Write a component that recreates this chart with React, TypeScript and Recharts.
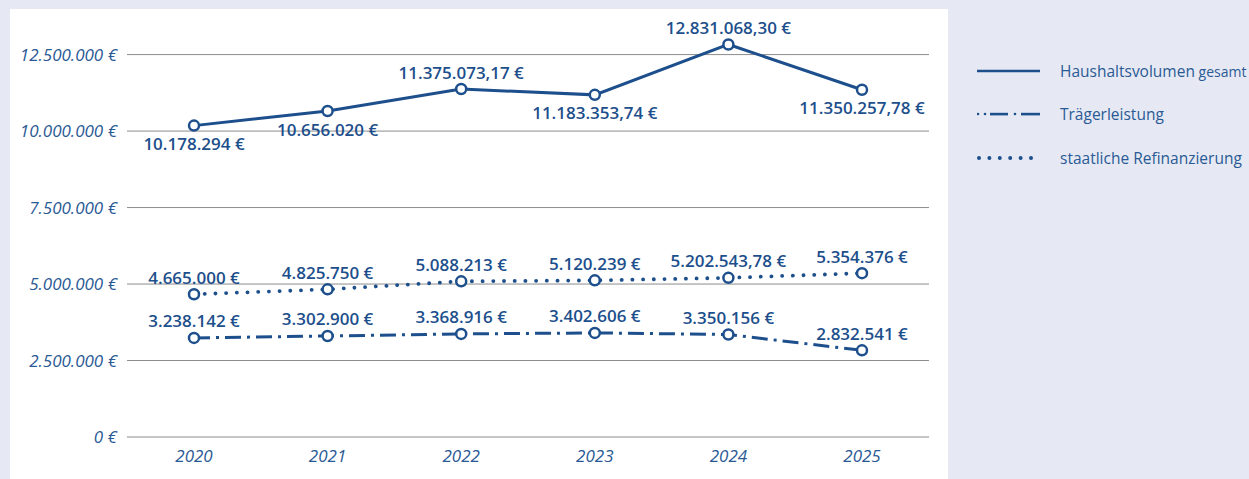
import { CartesianGrid, LabelList, Line, LineChart, XAxis, YAxis } from "recharts";

const years = ["2020", "2021", "2022", "2023", "2024", "2025"];
const haushaltsvolumen = [10178294, 10656020, 11375073.17, 11183353.74, 12831068.3, 11350257.78];
const traegerleistung = [3238142, 3302900, 3368916, 3402606, 3350156, 2832541];
const refinanzierung = [4665000, 4825750, 5088213, 5120239, 5202543.78, 5354376];
const yTicks = [0, 2500000, 5000000, 7500000, 10000000, 12500000];

// where the value labels of the top series sit
const haushaltLabelSide = ["below", "below", "above", "below", "above", "below"];

const BLUE = "#1d4f8c";
const TICK_BLUE = "#2a5a95";
const FONT = "'Open Sans', 'Noto Sans', sans-serif";

const data = years.map((year, i) => ({
  year,
  hh: haushaltsvolumen[i],
  tr: traegerleistung[i],
  rf: refinanzierung[i],
}));

function euro(v: number) {
  const neg = v < 0;
  const abs = Math.abs(v);
  const whole = Math.floor(abs + 1e-9);
  const cents = Math.round((abs - whole) * 100);
  const s = String(whole).replace(/\B(?=(\d{3})+(?!\d))/g, ".");
  const out = cents > 0 ? `${s},${String(cents).padStart(2, "0")}` : s;
  return `${neg ? "-" : ""}${out} €`;
}

function makeLabel(side: (i: number) => string) {
  return (props: any) => {
    const { x, y, index, value } = props;
    const dy = side(index) === "above" ? -17 : 18;
    return (
      <text
        x={x}
        y={y + dy}
        textAnchor="middle"
        dominantBaseline="central"
        fill={BLUE}
        fontFamily={FONT}
        fontSize={17}
        fontWeight={600}
      >
        {euro(Number(value))}
      </text>
    );
  };
}

function LegendBox() {
  const rows = [
    { key: "solid", label: "Haushaltsvolumen", extra: "gesamt" },
    { key: "dashdot", label: "Trägerleistung" },
    { key: "dots", label: "staatliche Refinanzierung" },
  ];
  return (
    <div style={{ fontFamily: FONT, color: TICK_BLUE }}>
      {rows.map((r) => (
        <div key={r.key} style={{ display: "flex", alignItems: "center", height: 43.5 }}>
          <svg width={83} height={10} style={{ flex: "none" }}>
            {r.key === "solid" && <line x1={0} y1={5} x2={63} y2={5} stroke={BLUE} strokeWidth={2.5} />}
            {r.key === "dashdot" && (
              <g fill={BLUE}>
                <circle cx={1} cy={5} r={1.3} />
                <circle cx={8} cy={5} r={1.3} />
                <rect x={13} y={3.8} width={18} height={2.6} />
                <circle cx={38} cy={5} r={1.3} />
                <rect x={44} y={3.8} width={19} height={2.6} />
              </g>
            )}
            {r.key === "dots" && (
              <g fill={BLUE}>
                {[0, 1, 2, 3, 4, 5].map((k) => (
                  <circle key={k} cx={2 + k * 10.4} cy={5} r={2} />
                ))}
              </g>
            )}
          </svg>
          <span style={{ fontSize: 15.5, whiteSpace: "nowrap" }}>
            {r.label}
            {r.extra && <span style={{ fontSize: 14 }}> {r.extra}</span>}
          </span>
        </div>
      ))}
    </div>
  );
}

export default function App() {
  return (
    <div
      style={{
        position: "absolute",
        left: 0,
        top: 0,
        width: 1249,
        height: 479,
        background: "#e6e9f3",
        overflow: "hidden",
      }}
    >
      <div style={{ position: "absolute", left: 10, top: 9, width: 938, height: 470, background: "#fff" }} />
      <div style={{ position: "absolute", left: 0, top: 0 }}>
        <LineChart width={1249} height={479} data={data} margin={{ top: 24, right: 320, bottom: 12, left: 0 }}>
          <CartesianGrid vertical={false} horizontalValues={yTicks} stroke="#8c8c8c" strokeWidth={1} />
          <XAxis
            dataKey="year"
            axisLine={false}
            tickLine={false}
            padding={{ left: 67, right: 67 }}
            height={30}
            tickMargin={7}
            tick={{ fill: TICK_BLUE, fontFamily: FONT, fontSize: 17, fontStyle: "italic" }}
          />
          <YAxis
            width={127}
            domain={[0, 13500000]}
            ticks={yTicks}
            axisLine={false}
            tickLine={false}
            tickMargin={4}
            tickFormatter={(v: number) => euro(v)}
            tick={{ fill: TICK_BLUE, fontFamily: FONT, fontSize: 17, fontStyle: "italic" }}
          />
          <Line
            dataKey="hh"
            name="Haushaltsvolumen gesamt"
            stroke={BLUE}
            strokeWidth={3}
            dot={{ r: 5, fill: "#fff", stroke: BLUE, strokeWidth: 2.5 }}
            activeDot={false}
            isAnimationActive={false}
          >
            <LabelList dataKey="hh" content={makeLabel((i) => haushaltLabelSide[i])} />
          </Line>
          <Line
            dataKey="tr"
            name="Trägerleistung"
            stroke={BLUE}
            strokeWidth={3}
            strokeDasharray="16 6 3 6"
            dot={{ r: 5, fill: "#fff", stroke: BLUE, strokeWidth: 2.5, strokeDasharray: "none" }}
            activeDot={false}
            isAnimationActive={false}
          >
            <LabelList dataKey="tr" content={makeLabel(() => "above")} />
          </Line>
          <Line
            dataKey="rf"
            name="staatliche Refinanzierung"
            stroke={BLUE}
            strokeWidth={3.8}
            strokeLinecap="round"
            strokeDasharray="0.1 10.6"
            dot={{ r: 5, fill: "#fff", stroke: BLUE, strokeWidth: 2.5, strokeDasharray: "none" }}
            activeDot={false}
            isAnimationActive={false}
          >
            <LabelList dataKey="rf" content={makeLabel(() => "above")} />
          </Line>
        </LineChart>
      </div>
      <div style={{ position: "absolute", left: 977, top: 49 }}>
        <LegendBox />
      </div>
    </div>
  );
}
